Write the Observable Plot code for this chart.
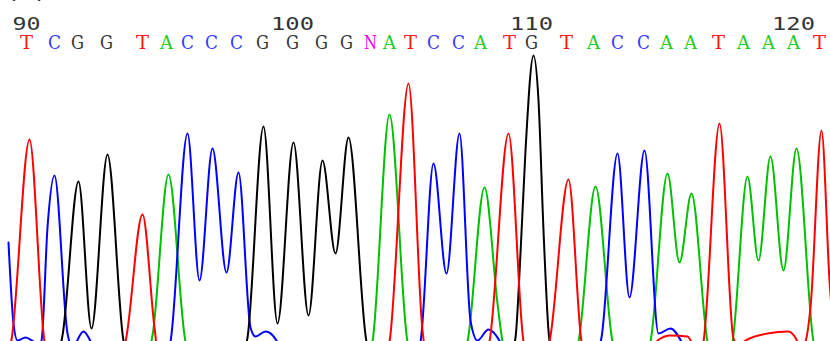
<!DOCTYPE html>
<html>
<head>
<meta charset="utf-8">
<script src="https://cdn.jsdelivr.net/npm/d3@7"></script>
<script src="https://cdn.jsdelivr.net/npm/@observablehq/plot@0.6"></script>
<style>
  html, body { margin: 0; padding: 0; background: #fff; }
  #chart { width: 830px; height: 341px; overflow: hidden; }
</style>
</head>
<body>
<div id="chart"></div>
<script>
// Base calls (positions 90..121) and their scan positions
const bases = ["T","C","G","G","T","A","C","C","C","G",
               "G","G","G","N","A","T","C","C","A","T",
               "G","T","A","C","C","A","A","T","A","A",
               "A","T"];
const basePos = [26, 54, 77, 106, 142, 166, 187, 211, 236, 262,
                 292, 321, 346, 370, 389, 410, 433, 458, 480, 509,
                 531, 566, 593, 617, 643, 666, 690, 718, 743, 768,
                 793, 819];
const firstBase = 90;
const tickLabels = [90, 100, 110, 120];
const panelLabel = "(a)";

// Trace key points [scan, signal]
const traceA = [[8,5],[147,5],[152,25],[168,186],[185,19],[190,5],[367,5],[372,19],[389,246],[407,19],[412,5],
  [462,5],[467,19],[484,173],[497,57],[502,19],[506,5],[573,5],[578,19],[595,174],[612,19],[616,5],
  [645,5],[650,19],[667,187],[679,98],[691,167],[707,19],[711,5],[727,5],[732,19],[747,184],[758,100],
  [770,204],[783,90],[796,212],[813,19],[817,5],[830,5]];
const traceC = [[8,118],[13,37],[17,20],[25,23],[33,19],[38,16],[41,20],[47,133],[54,185],[67,27],
  [72,14],[83,29],[93,14],[100,5],[165,5],[170,19],[187,227],[199,80],[212,212],[226,88],[238,188],
  [250,33],[255,24],[265,29],[276,20],[282,5],[414,5],[420,19],[433,197],[446,87],[459,227],[470,40],
  [477,20],[488,31],[500,18],[506,5],[595,5],[601,23],[617,207],[629,63],[644,210],[658,27],[670,32],
  [682,17],[688,5],[830,5]];
const traceG = [[8,5],[57,5],[62,25],[78,179],[91,32],[107,206],[123,20],[128,5],[242,5],[247,23],
  [263,234],[277,37],[293,218],[308,45],[322,200],[335,107],[348,223],[366,19],[371,5],[510,5],
  [515,23],[520,107],[525,210],[533,305],[538,260],[543,130],[548,30],[552,5],[830,5]];
const traceT = [[8,8],[11,21],[29,221],[44,19],[48,5],[120,5],[125,19],[142,146],[154,33],[158,5],
  [385,5],[389,19],[408,277],[422,30],[426,5],[485,5],[489,19],[508,227],[523,19],[527,5],[544,5],
  [549,19],[568,181],[581,19],[585,5],[652,5],[657,20],[670,25],[687,24],[695,10],[699,5],[703,19],
  [719,237],[733,22],[738,15],[745,20],[767,27],[788,29],[797,19],[800,12],[805,19],[810,53],
  [821,230],[829,80],[835,5]];

const traceColor = {A: "#00c000", C: "#0000ff", G: "#000000", T: "#ff0000"};
const letterColor = {A: "#22cc22", C: "#3838ff", G: "#333333", T: "#ff1a1a", N: "#ff00ff"};

const baseData = bases.map((b, i) => ({base: b, x: basePos[i]}));
const tickData = tickLabels.map(t => ({label: String(t), x: basePos[t - firstBase]}));

const traces = [["A", traceA], ["C", traceC], ["G", traceG], ["T", traceT]];

const chart = Plot.plot({
  width: 830,
  height: 341,
  margin: 0,
  x: {domain: [0, 830], axis: null},
  y: {domain: [19, 360], axis: null},
  marks: [
    ...traces.map(([b, pts]) => Plot.line(pts, {
      x: d => d[0], y: d => d[1],
      stroke: traceColor[b], strokeWidth: 2, curve: "monotone-x", clip: true
    })),
    Plot.text(tickData, {
      x: "x", text: "label", frameAnchor: "top", dy: 29, lineAnchor: "bottom",
      fill: "#333333", fontSize: 17, fontFamily: "DejaVu Sans Mono"
    }),
    Plot.text(baseData, {
      x: "x", text: "base", frameAnchor: "top", dy: 48, lineAnchor: "bottom",
      fill: d => letterColor[d.base], fontSize: 18, fontFamily: "DejaVu Serif"
    }),
    Plot.text([panelLabel], {
      frameAnchor: "top-left", dx: 26, dy: -2, lineAnchor: "bottom", textAnchor: "middle",
      fill: "#222", fontSize: 17, fontFamily: "DejaVu Sans Mono"
    })
  ]
});

// stretch glyphs to the wide bitmap-like font of the original
d3.select(chart).selectAll("text").each(function() {
  const n = this.textContent.length;
  if (n > 0) {
    this.setAttribute("textLength", n * 15 - 2);
    this.setAttribute("lengthAdjust", "spacingAndGlyphs");
  }
});

document.getElementById("chart").appendChild(chart);
</script>
</body>
</html>
